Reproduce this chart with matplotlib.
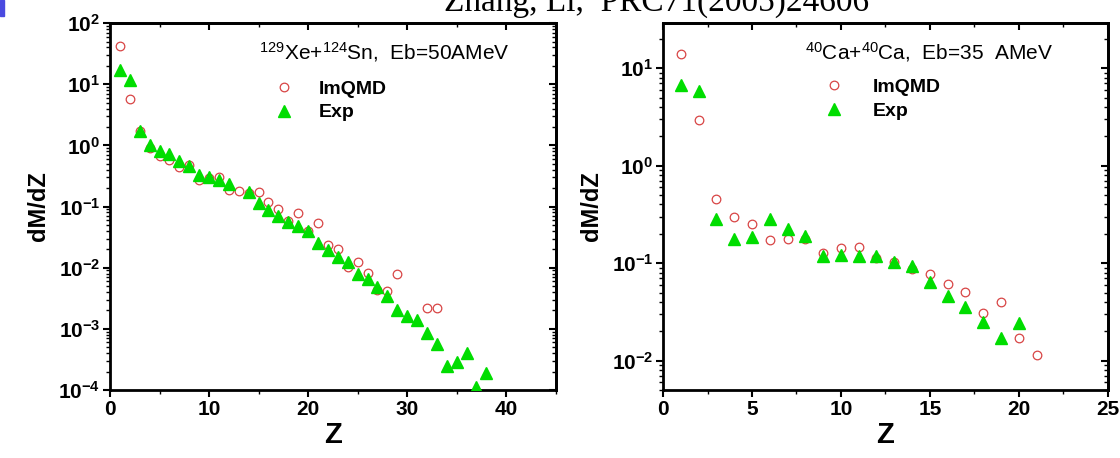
"""
Fragment charge distributions dM/dZ: ImQMD vs experiment, two reactions.
"""

import numpy as np
import matplotlib
matplotlib.use('Agg')
import matplotlib.pyplot as plt
from matplotlib import font_manager
from matplotlib.patches import Rectangle
from matplotlib.ticker import MultipleLocator, LogLocator, FixedLocator, FixedFormatter, NullFormatter

# ── Data: Xe+Sn, Eb=50 AMeV ────────────────────────────────────────────────
Z_XE = list(range(1, 39))
QMD_XE = [43, 5.8, 1.75, 0.90, 0.67, 0.58, 0.44, 0.48, 0.27, 0.29,
          0.30, 0.19, 0.18, 0.167, 0.17, 0.12, 0.090, 0.059, 0.079, 0.040,
          0.053, 0.0236, 0.0205, 0.0102, 0.0126, 0.0083, 0.0043, 0.0042, 0.0079, np.nan,
          np.nan, 0.0022, 0.0022, np.nan, np.nan, np.nan, np.nan, np.nan]
EXP_XE = [16.8, 11.8, 1.69, 1.0, 0.80, 0.73, 0.55, 0.457, 0.333, 0.31,
          0.27, 0.234, np.nan, 0.171, 0.115, 0.089, 0.071, 0.055, 0.049, 0.040,
          0.025, 0.0195, 0.0152, 0.0126, 0.0079, 0.0065, 0.0049, 0.0035, 0.00204, 0.0016,
          0.0014, 0.00086, 0.00056, 0.00025, 0.00029, 0.00040, 0.00011, 0.00019]

# ── Data: Ca+Ca, Eb=35 AMeV ────────────────────────────────────────────────
Z_CA = list(range(1, 22))
QMD_CA = [14.0, 2.95, 0.45, 0.30, 0.252, 0.173, 0.179, 0.176, 0.126, 0.143,
          0.147, 0.112, 0.102, 0.0865, 0.0769, 0.0607, 0.0502, 0.031, 0.0403, 0.0172,
          0.0113]
EXP_CA = [6.74, 5.85, 0.282, 0.176, 0.187, 0.284, 0.226, 0.19, 0.1186, 0.12,
          0.1186, 0.119, 0.102, 0.094, 0.0646, 0.046, 0.0355, 0.0247, 0.0172, 0.0246,
          np.nan]

XE_TEXT = r'$^{129}$Xe+$^{124}$Sn,  Eb=50AMeV'
CA_TEXT = r'$^{40}$Ca+$^{40}$Ca,  Eb=35  AMeV'
TOP_TEXT = 'Zhang, Li,  PRC71(2005)24606'

names = {f.name for f in font_manager.fontManager.ttflist}
NARROW = 'Liberation Sans Narrow' if 'Liberation Sans Narrow' in names else 'Liberation Sans'

plt.rcParams['font.family'] = ['Liberation Sans', 'DejaVu Sans']
plt.rcParams['mathtext.fontset'] = 'custom'
plt.rcParams['mathtext.rm'] = NARROW
plt.rcParams['mathtext.bf'] = 'Liberation Sans:bold'
plt.rcParams['mathtext.it'] = NARROW

RED = '#d84545'
GREEN = '#00dd00'


def decade_labels(exps):
    return [r'$\mathbf{10^{%d}}$' % e for e in exps]


def style_axes(ax, xmax, xmajor, xminor, ylim, exps):
    ax.set_yscale('log')
    for sp in ax.spines.values():
        sp.set_linewidth(2)
    xt = np.arange(0, xmax + 0.01, xmajor)
    ax.xaxis.set_major_locator(FixedLocator(xt))
    ax.xaxis.set_major_formatter(FixedFormatter(['%d' % t for t in xt]))
    ax.xaxis.set_minor_locator(MultipleLocator(xminor))
    ticks = [10.0 ** e for e in exps]
    ax.yaxis.set_major_locator(FixedLocator(ticks))
    ax.yaxis.set_major_formatter(FixedFormatter(decade_labels(exps)))
    ax.yaxis.set_minor_locator(LogLocator(base=10, subs=np.arange(2, 10), numticks=20))
    ax.yaxis.set_minor_formatter(NullFormatter())
    ax.set_xlim(0, xmax)
    ax.set_ylim(*ylim)
    for lab in ax.get_xticklabels():
        lab.set_fontweight('bold')
    ax.tick_params(which='major', direction='out', length=5, width=1.5, labelsize=15, pad=2)
    ax.tick_params(which='minor', direction='out', length=3, width=1.0)
    # mirror axes: ticks pointing inward on top / right
    top = ax.secondary_xaxis('top')
    top.xaxis.set_major_locator(MultipleLocator(xmajor))
    top.xaxis.set_minor_locator(MultipleLocator(xminor))
    top.tick_params(which='major', direction='in', length=5, width=1.5, labeltop=False)
    top.tick_params(which='minor', direction='in', length=3, width=1.0)
    top.spines['top'].set_linewidth(2)
    right = ax.secondary_yaxis('right')
    right.yaxis.set_major_locator(FixedLocator(ticks))
    right.yaxis.set_minor_locator(LogLocator(base=10, subs=np.arange(2, 10), numticks=20))
    right.tick_params(which='major', direction='in', length=5, width=1.5, labelright=False)
    right.tick_params(which='minor', direction='in', length=3, width=1.0, labelright=False)
    right.spines['right'].set_linewidth(2)
    ax.set_xlabel('Z', fontsize=21, fontweight='bold', labelpad=2)
    ax.set_ylabel('dM/dZ', fontsize=17, fontweight='bold', labelpad=6)


def plot_panel(ax, z, qmd, exp):
    ax.plot(z, qmd, linestyle='none', marker='o', ms=6.2, mfc='none', mec=RED, mew=0.9,
            label='ImQMD', zorder=3)
    ax.plot(z, exp, linestyle='none', marker='^', ms=8, color=GREEN, mec=GREEN,
            label='Exp', zorder=4)


fig = plt.figure(figsize=(11.2, 4.58), dpi=100)
ax1 = fig.add_axes([0.0982, 0.1485, 0.398, 0.801])
ax2 = fig.add_axes([0.592, 0.1485, 0.397, 0.801])

plot_panel(ax1, Z_XE, QMD_XE, EXP_XE)
plot_panel(ax2, Z_CA, QMD_CA, EXP_CA)

style_axes(ax1, 45, 10, 5, (1e-4, 1e2), [-4, -3, -2, -1, 0, 1, 2])
style_axes(ax2, 25, 5, 2.5, (5e-3, 29), [-2, -1, 0, 1])

ax1.text(0.335, 0.921, XE_TEXT, transform=ax1.transAxes, fontsize=15,
         family=NARROW, va='center', ha='left')
ax2.text(0.320, 0.921, CA_TEXT, transform=ax2.transAxes, fontsize=15,
         family=NARROW, va='center', ha='left')

ax1.legend(loc='upper left', bbox_to_anchor=(0.35, 0.865), frameon=False,
           handlelength=1.0, handletextpad=1.3, labelspacing=0.3,
           prop={'weight': 'bold', 'size': 14}, borderaxespad=0)
ax2.legend(loc='upper left', bbox_to_anchor=(0.345, 0.87), frameon=False,
           handlelength=1.0, handletextpad=1.5, labelspacing=0.3,
           prop={'weight': 'bold', 'size': 14}, borderaxespad=0)

fig.text(0.396, 1 - 11 / 458, TOP_TEXT, family='Liberation Serif', fontsize=24,
         va='baseline', ha='left')
fig.patches.append(Rectangle((0, 1 - 16 / 458), 4 / 1120, 16 / 458,
                             transform=fig.transFigure, color='#4a4ae0', figure=fig))

fig.savefig('out.png', dpi=100, facecolor='white')
